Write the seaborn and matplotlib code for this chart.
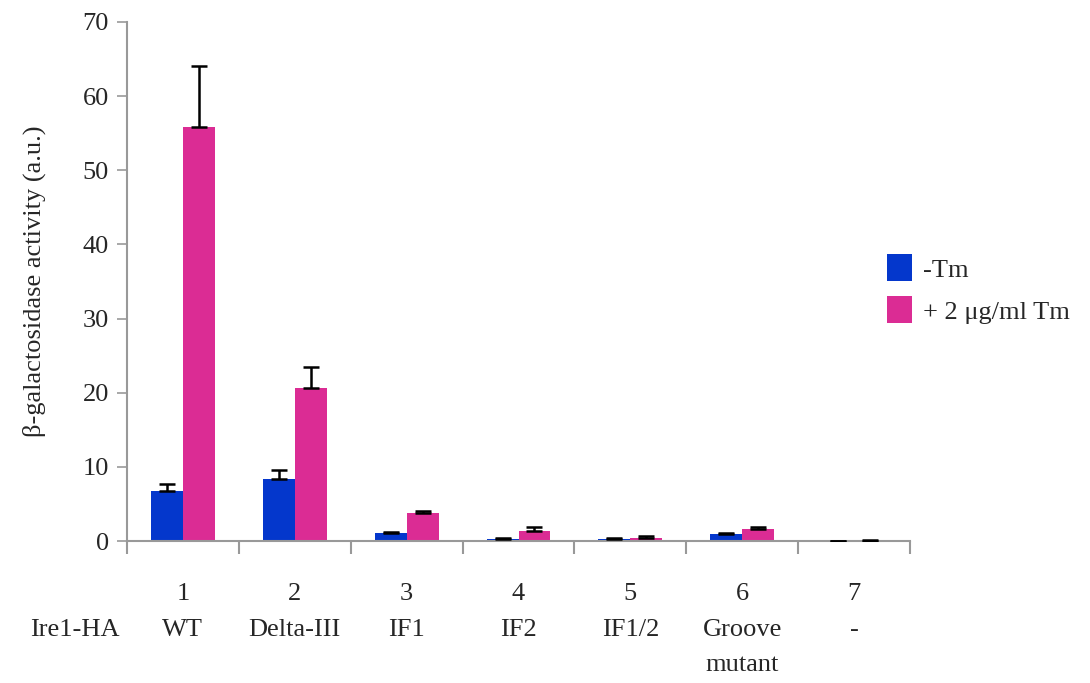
import numpy as np
import pandas as pd
import matplotlib
matplotlib.use("Agg")
import matplotlib.pyplot as plt
import seaborn as sns
from matplotlib.patches import Patch

lanes = ["1", "2", "3", "4", "5", "6", "7"]
names = ["WT", "Delta-III", "IF1", "IF2", "IF1/2", "Groove\nmutant", "-"]
series = ["-Tm", "+ 2 \u03bcg/ml Tm"]
minus_tm = [6.8, 8.4, 1.05, 0.3, 0.3, 1.0, 0.0]
minus_tm_err = [0.85, 1.2, 0.2, 0.05, 0.05, 0.05, 0.0]
plus_tm = [55.9, 20.7, 3.8, 1.35, 0.36, 1.6, 0.0]
plus_tm_err = [8.2, 2.8, 0.25, 0.6, 0.35, 0.35, 0.15]
colors = ["#0437CC", "#DB2C94"]

sns.set_theme(style="white")
plt.rcParams["font.family"] = ["Liberation Serif", "DejaVu Serif"]
FS = 19

df = pd.DataFrame({
    "lane": lanes * 2,
    "value": minus_tm + plus_tm,
    "cond": [series[0]] * 7 + [series[1]] * 7,
})

fig = plt.figure(figsize=(10.9, 6.83), dpi=100)
ax = fig.add_axes([127 / 1090, 1 - 541 / 683, (910 - 127) / 1090, (541 - 22) / 683])

group_width = 0.57
sns.barplot(data=df, x="lane", y="value", hue="cond", hue_order=series,
            palette=colors, width=group_width, gap=0, saturation=1, legend=False,
            errorbar=None, ax=ax, linewidth=0)

# error bars (upper only)
errs = [minus_tm_err, plus_tm_err]
vals = [minus_tm, plus_tm]
base = np.arange(len(lanes))
for k in range(2):
    xs = base + (k - 0.5) * group_width / 2
    ax.errorbar(xs, vals[k], yerr=[np.zeros(len(lanes)), errs[k]], fmt="none",
                ecolor="black", elinewidth=1.8, capsize=6, capthick=1.8, zorder=5)

ax.set_xlim(-0.5, 6.5)
ax.set_ylim(0, 70)
ax.set_yticks(range(0, 71, 10))
ax.tick_params(axis="y", which="major", length=7, width=1.2, color="#999999",
               direction="out", left=True, labelsize=FS, pad=6)
ax.set_xticks(range(7))
ax.set_xticklabels(lanes, fontsize=FS)
ax.tick_params(axis="x", which="major", length=0, pad=30, labelsize=FS)
ax.set_xticks(np.arange(-0.5, 7, 1), minor=True)
ax.tick_params(axis="x", which="minor", length=9, width=1.5, color="#999999",
               direction="out", bottom=True)
ax.set_xlabel("")
ax.set_ylabel("\u03b2-galactosidase activity (a.u.)", fontsize=FS, labelpad=26)

for s in ["top", "right"]:
    ax.spines[s].set_visible(False)
for s in ["left", "bottom"]:
    ax.spines[s].set_color("#999999")
    ax.spines[s].set_linewidth(1.5)

trans = ax.get_xaxis_transform()
h = 519.0
for i, nm in enumerate(names):
    for j, line in enumerate(nm.split("\n")):
        ax.text(i, -(630 + 35 * j - 541) / h, line, transform=trans, ha="center",
                va="center", fontsize=FS)
ax.text(-0.5 - (127 - 75) / 112, -(630 - 541) / h, "Ire1-HA", transform=trans,
        ha="center", va="center", fontsize=FS)

handles = [Patch(facecolor=c, edgecolor="none") for c in colors]
fig.legend(handles, series, loc="center left", bbox_to_anchor=(887 / 1090, 1 - 289 / 683),
           frameon=False, fontsize=FS, handlelength=0.95, handleheight=1.2,
           handletextpad=0.4, labelspacing=0.55, borderpad=0, borderaxespad=0)

fig.savefig("out.png", dpi=100)
